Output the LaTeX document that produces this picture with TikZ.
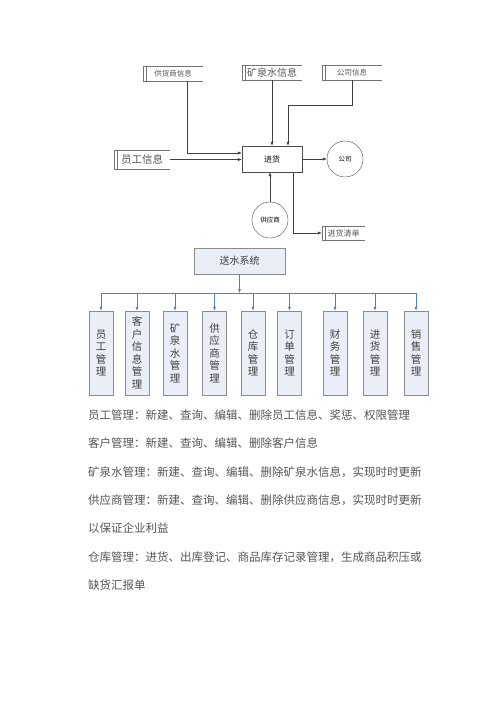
\documentclass[tikz,border=0pt]{standalone}
\usepackage{fontspec}
\setmainfont{Noto Sans CJK SC}
\usetikzlibrary{arrows.meta,positioning}
\definecolor{busblue}{HTML}{4F81BD}
\definecolor{boxfill}{HTML}{E9EEF7}
\definecolor{boxline}{HTML}{8C8C8C}
\definecolor{inkgray}{HTML}{555555}

\begin{document}
\begin{tikzpicture}
[
	              x = 1pt,
	              y = -1pt,
	             >= {Latex[length=4pt,width=3.2pt]},
	    store/.style = { inner sep=0pt, text=inkgray },
	storeline/.style = { draw=black!55, line width=0.5pt },
	     proc/.style = { draw=black!70, minimum width=60pt, minimum height=26pt, font=\fontsize{8}{8}\selectfont },
	   entity/.style = { draw=black!70, circle, minimum size=36pt, inner sep=0pt, font=\fontsize{6.5}{7}\selectfont },
	     flow/.style = { ->, draw=black!75, line width=0.5pt },
	   sysbox/.style = { draw=boxline, fill=boxfill, minimum width=91pt, minimum height=26pt, text=black!75, font=\fontsize{10}{10}\selectfont },
	   modbox/.style = { draw=boxline, fill=boxfill, minimum width=24pt, minimum height=84pt, inner sep=0pt, align=center, text=black!75, font=\fontsize{10.5}{12.5}\selectfont },
	     feed/.style = { ->, draw=busblue, line width=0.6pt },
	     desc/.style = { anchor=base west, inner sep=0pt, text=inkgray, font=\fontsize{11.5}{11.5}\selectfont }
]
	\useasboundingbox (0,0) rectangle (500,707);

	% data flow part
	\node (gysxx) at (173,73.5)  [store, minimum width=60pt, minimum height=15pt, font=\fontsize{7.5}{8}\selectfont]  {供货商信息};
	\node (kqsxx) at (272,72.5)  [store, minimum width=60pt, minimum height=15pt, font=\fontsize{10}{10}\selectfont]  {矿泉水信息};
	\node (gsxx)  at (352,72.5)  [store, minimum width=60pt, minimum height=15pt, font=\fontsize{7.5}{8}\selectfont]  {公司信息};
	\node (ygxx)  at (142,159.5) [store, minimum width=56pt, minimum height=19pt, font=\fontsize{10.5}{11}\selectfont] {员工信息};
	\node (jhqd)  at (343.5,233) [store, minimum width=43pt, minimum height=14pt, font=\fontsize{8}{8}\selectfont]    {进货清单};
	\foreach \s in {gysxx,kqsxx,gsxx,ygxx,jhqd}
		\draw [storeline] (\s.north east) -- (\s.north west) -- (\s.south west) -- (\s.south east)
			([xshift=3pt]\s.north west) -- ([xshift=3pt]\s.south west);

	\node (jh)   at (272,159)  [proc]   {进货};
	\node (gs)   at (345,159)  [entity] {公司};
	\node (gysh) at (270,220)  [entity] {供应商};

	\draw [flow] ([xshift=14pt]gysxx.south) |- ([yshift=6pt]jh.west);
	\draw [flow] (ygxx.east) -- (ygxx.east -| jh.west);
	\draw [flow] (kqsxx.south) -- (kqsxx.south |- jh.north);
	\draw [flow] (gsxx.south) -- ++(0,25) -| ([xshift=16pt]jh.north);
	\draw [flow] (jh.east) -- (gs.west);
	\draw [flow] (gysh.north) -- (gysh.north |- jh.south);
	\draw [flow] ([xshift=21pt]jh.south) |- (jhqd.west);

	% module tree
	\node (sys) at (239.5,261) [sysbox] {送水系统};
	\coordinate (bus) at (239.5,293);

	\foreach \name/\xc/\txt in {m1/101/员\\工\\管\\理, m2/137/客\\户\\信\\息\\管\\理, m3/175/矿\\泉\\水\\管\\理,
			m4/214.5/供\\应\\商\\管\\理, m5/253/仓\\库\\管\\理, m6/289.5/订\\单\\管\\理,
			m7/335/财\\务\\管\\理, m8/375/进\\货\\管\\理, m9/416/销\\售\\管\\理}
		\node (\name) at (\xc,353) [modbox] {\txt};

	\draw [feed] (sys.south) -- (bus);
	\draw [busblue, line width=0.6pt] (m1 |- bus) -- (m9 |- bus);
	\foreach \m in {m1,m2,m3,m4,m5,m6,m7,m8,m9}
		\draw [feed] (\m |- bus) -- (\m.north);

	% description lines
	\node (d1) at (88,419) [desc] {员工管理：新建、查询、编辑、删除员工信息、奖惩、权限管理};
	\node (d2) at (88,447) [desc] {客户管理：新建、查询、编辑、删除客户信息};
	\node (d3) at (88,476) [desc] {矿泉水管理：新建、查询、编辑、删除矿泉水信息，实现时时更新};
	\node (d4) at (88,504) [desc] {供应商管理：新建、查询、编辑、删除供应商信息，实现时时更新};
	\node (d5) at (88,532) [desc] {以保证企业利益};
	\node (d6) at (88,561) [desc] {仓库管理：进货、出库登记、商品库存记录管理，生成商品积压或};
	\node (d7) at (88,589) [desc] {缺货汇报单};

\end{tikzpicture}
\end{document}
